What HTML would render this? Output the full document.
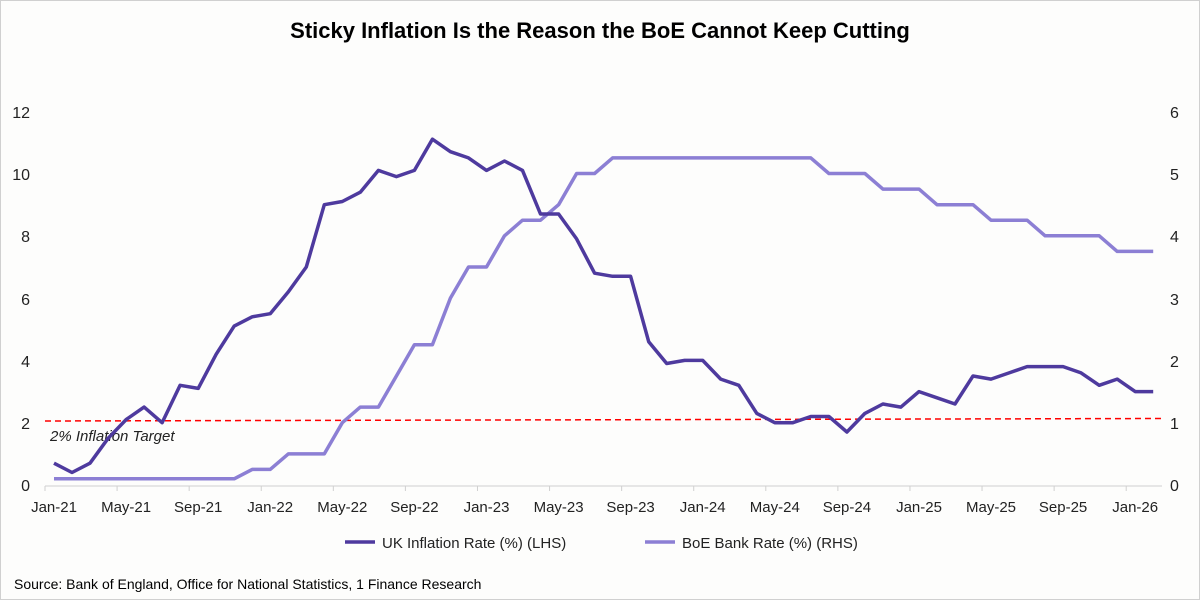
<!DOCTYPE html>
<html><head><meta charset="utf-8"><style>
html,body{margin:0;padding:0;background:#fff;}
svg{display:block;font-family:"Liberation Sans",Arial,sans-serif;}
</style></head><body>
<svg id="c" width="1200" height="600" xmlns="http://www.w3.org/2000/svg">
<rect x="0.5" y="0.5" width="1199" height="599" fill="#fdfdfc" stroke="#d0d0d0"/>
<text x="600" y="38" text-anchor="middle" font-size="22" font-weight="bold" fill="#000">Sticky Inflation Is the Reason the BoE Cannot Keep Cutting</text>
<g font-size="16" fill="#222">
<text x="30" y="491" text-anchor="end">0</text>
<text x="30" y="429" text-anchor="end">2</text>
<text x="30" y="367" text-anchor="end">4</text>
<text x="30" y="305" text-anchor="end">6</text>
<text x="30" y="242" text-anchor="end">8</text>
<text x="30" y="180" text-anchor="end">10</text>
<text x="30" y="118" text-anchor="end">12</text>
<text x="1170" y="491">0</text>
<text x="1170" y="429">1</text>
<text x="1170" y="367">2</text>
<text x="1170" y="305">3</text>
<text x="1170" y="242">4</text>
<text x="1170" y="180">5</text>
<text x="1170" y="118">6</text>
</g>
<line x1="45" y1="486" x2="1162" y2="486" stroke="#d0d0d0" stroke-width="1"/>
<g id="ticks" stroke="#d0d0d0"></g>
<g id="xl" font-size="15" fill="#222" text-anchor="middle"></g>
<line x1="45" y1="421" x2="1162" y2="418.5" stroke="#ff0000" stroke-width="1.5" stroke-dasharray="6,4"/>
<text x="50" y="441" font-size="15" font-style="italic" fill="#222">2% Inflation Target</text>
<polyline id="br" fill="none" stroke="#8c7fd4" stroke-width="3.5" stroke-linejoin="round"/>
<polyline id="inf" fill="none" stroke="#4e3a9e" stroke-width="3.5" stroke-linejoin="round"/>
<line x1="345" y1="542" x2="375" y2="542" stroke="#4e3a9e" stroke-width="3.5"/>
<text x="382" y="548" font-size="15" fill="#222">UK Inflation Rate (%) (LHS)</text>
<line x1="645" y1="542" x2="675" y2="542" stroke="#8c7fd4" stroke-width="3.5"/>
<text x="682" y="548" font-size="15" fill="#222">BoE Bank Rate (%) (RHS)</text>
<text x="14" y="589" font-size="14" fill="#000">Source: Bank of England, Office for National Statistics, 1 Finance Research</text>
</svg>
<script>
var inf=[0.7,0.4,0.7,1.5,2.1,2.5,2.0,3.2,3.1,4.2,5.1,5.4,5.5,6.2,7.0,9.0,9.1,9.4,10.1,9.9,10.1,11.1,10.7,10.5,10.1,10.4,10.1,8.7,8.7,7.9,6.8,6.7,6.7,4.6,3.9,4.0,4.0,3.4,3.2,2.3,2.0,2.0,2.2,2.2,1.7,2.3,2.6,2.5,3.0,2.8,2.6,3.5,3.4,3.6,3.8,3.8,3.8,3.6,3.2,3.4,3.0,3.0];
var br=[0.1,0.1,0.1,0.1,0.1,0.1,0.1,0.1,0.1,0.1,0.1,0.25,0.25,0.5,0.5,0.5,1.0,1.25,1.25,1.75,2.25,2.25,3.0,3.5,3.5,4.0,4.25,4.25,4.5,5.0,5.0,5.25,5.25,5.25,5.25,5.25,5.25,5.25,5.25,5.25,5.25,5.25,5.25,5.0,5.0,5.0,4.75,4.75,4.75,4.5,4.5,4.5,4.25,4.25,4.25,4.0,4.0,4.0,4.0,3.75,3.75,3.75];
function X(i){return 54+i*18.02;}
function Y(v){return 485-v*31.15;}
document.getElementById('inf').setAttribute('points',inf.map(function(v,i){return X(i).toFixed(1)+','+Y(v).toFixed(1)}).join(' '));
document.getElementById('br').setAttribute('points',br.map(function(v,i){return X(i).toFixed(1)+','+Y(v*2).toFixed(1)}).join(' '));
var m=['Jan','May','Sep'],t='',l='';
for(var k=0;k<16;k++){var i=k*4;var x=X(i)-9;t+='<line x1="'+x+'" y1="486" x2="'+x+'" y2="491"/>';
var yr=21+Math.floor(i/12);l+='<text x="'+X(i).toFixed(1)+'" y="512">'+m[k%3]+'-'+yr+'</text>';}
document.getElementById('ticks').innerHTML=t;document.getElementById('xl').innerHTML=l;
</script>
</body></html>
